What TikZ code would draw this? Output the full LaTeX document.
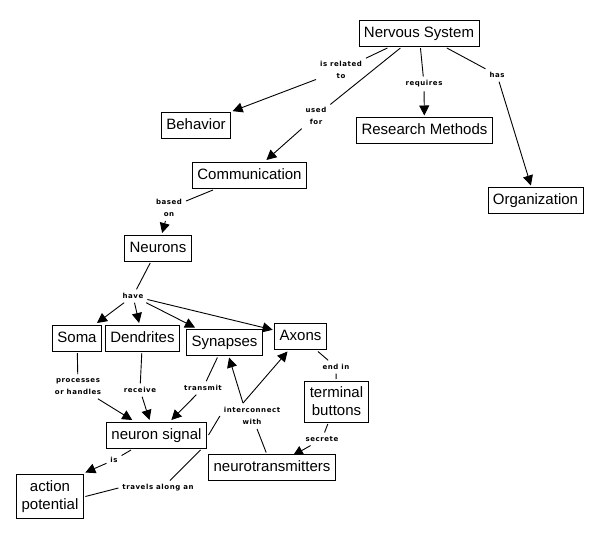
\documentclass[tikz,border=0pt]{standalone}
\usepackage{fontspec}
\setmainfont{Liberation Sans}
\newfontfamily\lblfont[LetterSpace=8]{DejaVu Sans Bold}
\usetikzlibrary{arrows.meta}
\pgfdeclarelayer{bg}
\pgfsetlayers{bg,main}
\begin{document}
\begin{tikzpicture}[x=1pt,y=-1pt,
  concept/.style={draw=black, line width=0.9pt, fill=white,
    font=\fontsize{15}{18}\selectfont, inner xsep=5pt, inner ysep=6pt,
    text height=11pt, text depth=3pt, outer sep=2pt},
  concepttwo/.style={draw=black, line width=0.9pt, fill=white,
    font=\fontsize{15}{18}\selectfont, inner xsep=5pt, inner ysep=6pt,
    align=center, outer sep=2pt},
  lbl/.style={font=\fontsize{7}{12.5}\lblfont, inner sep=1pt, outer sep=3pt, align=center},
  ln/.style={draw=black, line width=0.9pt},
  arr/.style={ln, -{Triangle[length=10pt,width=10pt]}}]
\useasboundingbox (0,0) rectangle (597,539);
% concepts
\node[concept] (ns) at (419,33) {Nervous System};
\node[concept] (beh) at (196,125) {Behavior};
\node[concept] (rm) at (424.5,130.5) {Research Methods};
\node[concept] (com) at (249.5,175) {Communication};
\node[concept] (org) at (535.5,200.5) {Organization};
\node[concept] (neu) at (158,248) {Neurons};
\node[concept] (soma) at (77,338) {Soma};
\node[concept] (den) at (142.5,338) {Dendrites};
\node[concept] (syn) at (224.5,342.5) {Synapses};
\node[concept] (axo) at (300.5,336.5) {Axons};
\node[concepttwo] (tb) at (336.5,401.5) {terminal\\buttons};
\node[concept] (sig) at (156.5,435) {neuron signal};
\node[concept] (nt) at (272,467.5) {neurotransmitters};
\node[concepttwo] (ap) at (50,496.5) {action\\potential};
% link labels
\node[lbl] (l1) at (341,70) {is related\\to};
\node[lbl] (l2) at (424,84) {requires};
\node[lbl] (l3) at (497,75) {has};
\node[lbl] (l4) at (316,116) {used\\for};
\node[lbl] (l5) at (169,208) {based\\on};
\node[lbl] (l6) at (133,296) {have};
\node[lbl] (l7) at (78,386.5) {processes\\or handles};
\node[lbl] (l8) at (140,390) {receive};
\node[lbl] (l9) at (203,388) {transmit};
\node[lbl] (l10) at (252,416) {interconnect\\with};
\node[lbl] (l11) at (336,367) {end in};
\node[lbl] (l12) at (322,439) {secrete};
\node[lbl] (l13) at (114,460) {is};
\node[lbl] (l14) at (158,488) {travels along an};
% connectors
\begin{pgfonlayer}{bg}
\draw[ln] (ns) -- (l1); \draw[arr] (l1) -- (beh);
\draw[ln] (ns) -- (l4); \draw[arr] (l4) -- (com);
\draw[ln] (ns) -- (l2); \draw[arr] (l2) -- (rm);
\draw[ln] (ns) -- (l3); \draw[arr] (l3) -- (org);
\draw[ln] (com) -- (l5); \draw[arr] (l5) -- (neu);
\draw[ln] (neu) -- (l6);
\draw[arr] (l6) -- (soma);
\draw[arr] (l6) -- (den);
\draw[arr] (l6) -- (syn);
\draw[arr] (l6) -- (axo);
\draw[ln] (soma) -- (l7); \draw[arr] (l7) -- (sig);
\draw[ln] (den) -- (l8); \draw[arr] (l8) -- ([xshift=-7pt]sig.north);
\draw[ln] (syn) -- (l9); \draw[arr] (l9) -- (sig);
\draw[ln] (nt) -- (l10);
\draw[ln] (sig.east) -- (l10.west);
\draw[arr] ([xshift=-9pt]l10.north) -- (syn);
\draw[arr] ([xshift=-9pt]l10.north) -- (axo);
\draw[ln] (sig) -- (l13); \draw[arr] (l13) -- (ap.north east);
\draw[ln] ([xshift=-8pt]sig.south east) -- ([xshift=12pt]l14.north);
\draw[ln] (l14.west) -- (ap.east);
\draw[ln] (axo) -- (l11); \draw[ln] (l11) -- (tb);
\draw[ln] (tb) -- (l12); \draw[arr, shorten >=-6pt] (l12) -- (nt);
\end{pgfonlayer}
\end{tikzpicture}
\end{document}
